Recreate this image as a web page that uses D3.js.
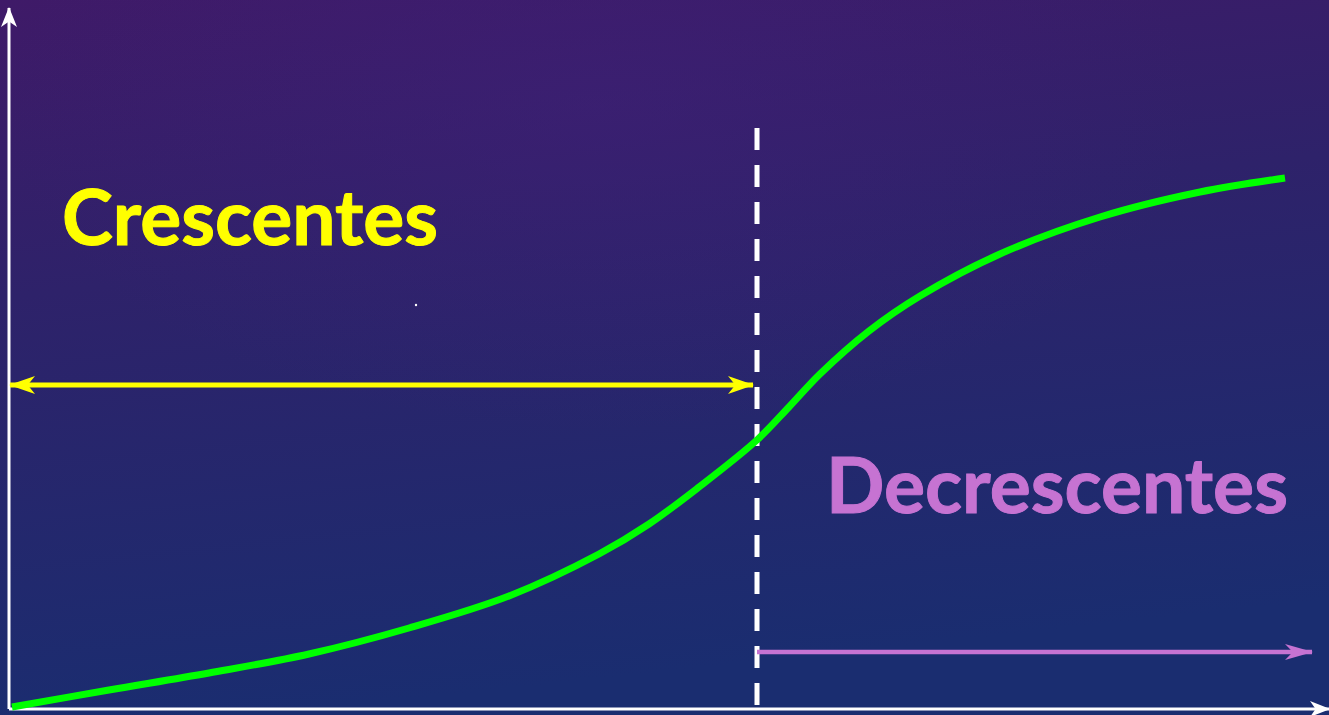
<!DOCTYPE html>
<html>
<head>
<meta charset="utf-8">
<script src="https://cdn.jsdelivr.net/npm/d3@7"></script>
<style>
html, body { margin: 0; padding: 0; background: #2a2266; overflow: hidden; }
svg { display: block; }
</style>
</head>
<body>
<svg id="chart" width="1329" height="715"></svg>
<script>
// curve (x along axis, y height above the axis)
var curveX = [3, 100, 200, 300, 400, 500, 590, 640, 690, 748, 780, 811, 860, 911, 991, 1091, 1191, 1276];
var curveY = [2, 19, 36, 55, 81, 113, 155, 185, 222, 269, 302, 335, 378, 413, 455, 492, 517, 531];

var splitX = 748;            // vertical dashed divider
var growRange = [1, 744];    // yellow double arrow
var growLevel = 324;
var fallRange = [748, 1303]; // purple arrow
var fallLevel = 57;

var labels = ["Crescentes", "Decrescentes"];

var W = 1329, H = 715;
var svg = d3.select("#chart");
var x = d3.scaleLinear().domain([0, 1320]).range([9, 1329]);
var y = d3.scaleLinear().domain([0, 700]).range([709, 9]);

var defs = svg.append("defs");
var bg = defs.append("linearGradient").attr("id", "bg")
	.attr("x1", 0).attr("y1", 0).attr("x2", 0.2).attr("y2", 1);
bg.append("stop").attr("offset", 0).attr("stop-color", "#3f1a68");
bg.append("stop").attr("offset", 0.4).attr("stop-color", "#2e226a");
bg.append("stop").attr("offset", 1).attr("stop-color", "#1a2d70");
var glow = defs.append("radialGradient").attr("id", "glow")
	.attr("cx", 0.45).attr("cy", 0.15).attr("r", 0.45);
glow.append("stop").attr("offset", 0).attr("stop-color", "#40207a").attr("stop-opacity", 0.45);
glow.append("stop").attr("offset", 1).attr("stop-color", "#40207a").attr("stop-opacity", 0);

svg.append("rect").attr("width", W).attr("height", H).attr("fill", "url(#bg)");
svg.append("rect").attr("width", W).attr("height", H).attr("fill", "url(#glow)");

// arrow heads
function marker(id, color, len, half) {
	defs.append("marker").attr("id", id)
		.attr("markerUnits", "userSpaceOnUse")
		.attr("viewBox", "0 0 " + len + " " + (half * 2))
		.attr("refX", len - 1).attr("refY", half)
		.attr("markerWidth", len).attr("markerHeight", half * 2)
		.attr("orient", "auto-start-reverse")
		.append("path")
		.attr("d", "M0,0 L" + len + "," + half + " L0," + (half * 2) + " L" + (len * 0.28) + "," + half + "Z")
		.attr("fill", color);
}
marker("aWhite", "#ffffff", 20, 8);
marker("aYellow", "#ffff00", 26, 9);
marker("aPurple", "#c673d2", 28, 8);

// axes
svg.append("line")
	.attr("x1", x(0)).attr("y1", y(0)).attr("x2", x(0)).attr("y2", 8)
	.attr("stroke", "#fff").attr("stroke-width", 3)
	.attr("marker-end", "url(#aWhite)");
svg.append("line")
	.attr("x1", x(0)).attr("y1", y(0)).attr("x2", 1329).attr("y2", y(0))
	.attr("stroke", "#fff").attr("stroke-width", 3)
	.attr("marker-end", "url(#aWhite)");

// divider
svg.append("line")
	.attr("x1", x(splitX)).attr("x2", x(splitX))
	.attr("y1", y(0) - 4).attr("y2", 123)
	.attr("stroke", "#fff").attr("stroke-width", 5)
	.attr("stroke-dasharray", "22,15");

// range arrows
svg.append("line")
	.attr("x1", x(growRange[0])).attr("x2", x(growRange[1]))
	.attr("y1", y(growLevel)).attr("y2", y(growLevel))
	.attr("stroke", "#ffff00").attr("stroke-width", 5)
	.attr("marker-start", "url(#aYellow)").attr("marker-end", "url(#aYellow)");
svg.append("line")
	.attr("x1", x(fallRange[0])).attr("x2", x(fallRange[1]))
	.attr("y1", y(fallLevel)).attr("y2", y(fallLevel))
	.attr("stroke", "#c673d2").attr("stroke-width", 4.5)
	.attr("marker-end", "url(#aPurple)");

// the curve
var pts = curveX.map(function(d, i) { return [d, curveY[i]]; });
var line = d3.line()
	.x(function(d) { return x(d[0]); })
	.y(function(d) { return y(d[1]); })
	.curve(d3.curveCatmullRom.alpha(0.5));
svg.append("path")
	.datum(pts)
	.attr("fill", "none")
	.attr("stroke", "#00ff00")
	.attr("stroke-width", 7)
	.attr("d", line);

// labels
svg.append("text")
	.attr("x", 62).attr("y", 245)
	.attr("font-family", "Lato, 'Open Sans', sans-serif")
	.attr("font-weight", "bold").attr("font-size", 77)
	.attr("fill", "#ffff00")
	.attr("stroke", "#ffff00").attr("stroke-width", 1)
	.attr("textLength", 376).attr("lengthAdjust", "spacingAndGlyphs")
	.text(labels[0]);
svg.append("text")
	.attr("x", 826).attr("y", 513)
	.attr("font-family", "Lato, 'Open Sans', sans-serif")
	.attr("font-weight", "bold").attr("font-size", 77)
	.attr("fill", "#c673d2")
	.attr("stroke", "#c673d2").attr("stroke-width", 1)
	.attr("textLength", 462).attr("lengthAdjust", "spacingAndGlyphs")
	.text(labels[1]);

// small speck seen in the picture
svg.append("circle").attr("cx", 416).attr("cy", 305).attr("r", 1.2).attr("fill", "#fff");
</script>
</body>
</html>
